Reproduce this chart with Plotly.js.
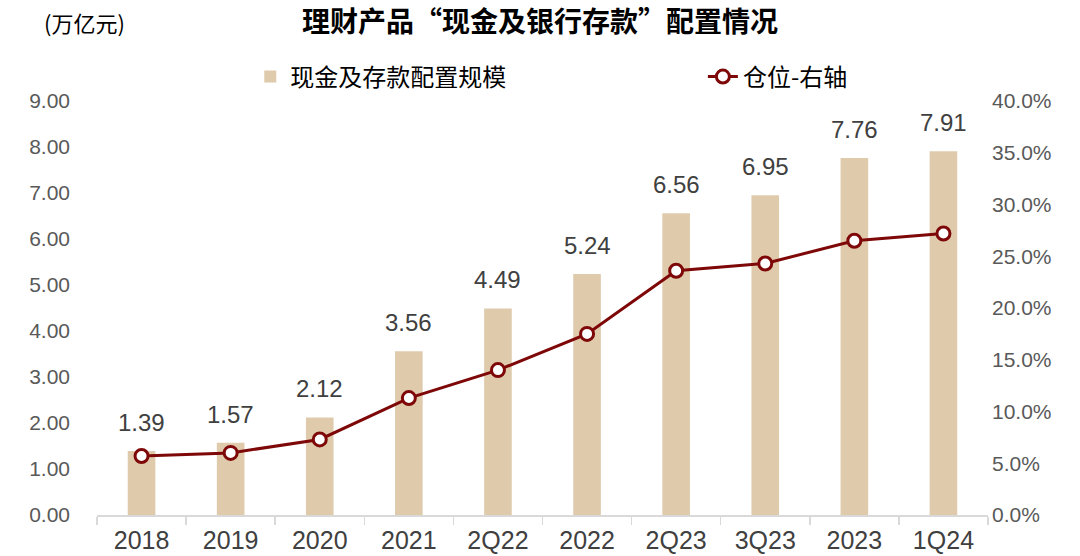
<!DOCTYPE html>
<html><head><meta charset="utf-8">
<script src="https://cdn.plot.ly/plotly-3.0.1.min.js"></script>
<style>body{margin:0;background:#fff}#chart{width:1080px;height:556px}</style>
</head><body><div id="chart"></div>
<script>
const categories = ['2018','2019','2020','2021','2Q22','2022','2Q23','3Q23','2023','1Q24'];
const scaleValues = [1.39,1.57,2.12,3.56,4.49,5.24,6.56,6.95,7.76,7.91];
const positionValues = [0.057,0.060,0.073,0.113,0.140,0.175,0.236,0.243,0.265,0.272];
const barName = '现金及存款配置规模';
const lineName = '仓位-右轴';
const titleText = '理财产品“现金及银行存款”配置情况';
const unitText = '(万亿元)';

const FONT = '"Liberation Sans", Arial, "Noto Sans CJK SC", sans-serif';
const CJK = '"Noto Sans CJK SC", "Liberation Sans", sans-serif';
const RED = '#7E0707';

const traces = [
  {type:'bar', x:categories, y:scaleValues, name:barName, legend:'legend',
   marker:{color:'#DFCBAC'}, width:0.31},
  {type:'scatter', mode:'lines+markers', x:categories, y:positionValues, name:lineName, yaxis:'y2', legend:'legend2',
   line:{color:RED,width:3},
   marker:{size:13,color:'#ffffff',line:{color:RED,width:3}}, cliponaxis:false}
];

// value labels placed at each category index through the x/y axes
const labelAnnotations = categories.map((c,i)=>({
  x:i, y:scaleValues[i], xref:'x', yref:'y', text:scaleValues[i].toFixed(2),
  showarrow:false, yanchor:'bottom', yshift:13,
  font:{family:FONT,size:24,color:'#404040'}
}));

const layout = {
  width:1080, height:556,
  margin:{l:97,r:92,t:101,b:41},
  paper_bgcolor:'#fff', plot_bgcolor:'#fff',
  font:{family:FONT,color:'#595959',size:21},
  title:{text:titleText, x:0.5, xanchor:'center', y:1-22/556, yanchor:'middle', yref:'container',
         font:{family:CJK,size:28,color:'#000',weight:'bold'}},
  showlegend:true,
  legend:{orientation:'h', x:0.172, xanchor:'left', y:1.058, yanchor:'middle',
          font:{family:CJK,size:24,color:'#000'}, bgcolor:'rgba(0,0,0,0)'},
  legend2:{orientation:'h', x:0.68, xanchor:'left', y:1.058, yanchor:'middle',
          font:{family:CJK,size:24,color:'#000'}, bgcolor:'rgba(0,0,0,0)'},
  xaxis:{type:'category', range:[-0.5, categories.length-0.5], autorange:false,
         showgrid:false, showline:true, linecolor:'#D9D9D9', linewidth:1.5,
         ticks:'outside', tickson:'boundaries', ticklen:8, tickcolor:'#D9D9D9', tickwidth:1.5,
         ticklabelstandoff:2, tickfont:{size:25,color:'#404040'}, zeroline:false},
  yaxis:{range:[0,9], dtick:1, tickformat:'.2f', showgrid:false, zeroline:false, showline:false,
         ticks:'', ticklabelstandoff:26, tickfont:{size:21,color:'#595959'}},
  yaxis2:{range:[0,0.4], dtick:0.05, tickformat:'.1%', overlaying:'y', side:'right',
          showgrid:false, zeroline:false, showline:false, ticks:'', ticklabelstandoff:3,
          tickfont:{size:21,color:'#595959'}},
  annotations:[{text:unitText, xref:'paper', yref:'paper', x:0, xanchor:'right', xshift:30,
                y:1+(101-22)/414, yanchor:'middle', showarrow:false,
                font:{family:CJK,size:22,color:'#000'}}].concat(labelAnnotations)
};
Plotly.newPlot('chart', traces, layout, {displayModeBar:false, staticPlot:true});
</script></body></html>
